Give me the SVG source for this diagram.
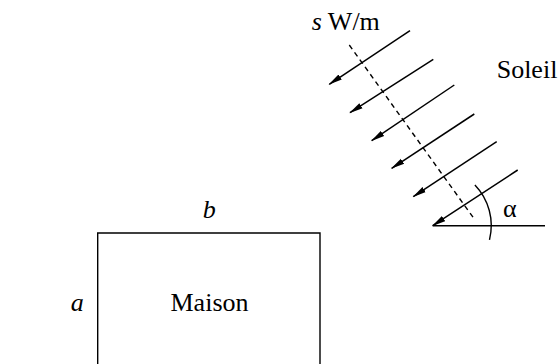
<svg xmlns="http://www.w3.org/2000/svg" width="560" height="364" viewBox="0 0 560 364">
<style>
text{font-family:'Liberation Serif','Times New Roman',serif;font-size:26px;fill:#000}
.it{font-style:italic}
.ray{stroke:#000;stroke-width:1.5;fill:none;marker-end:url(#ah)}
.ln{stroke:#000;stroke-width:1.4;fill:none}
</style>
<defs>
<marker id="ah" viewBox="0 0 14 8" refX="13" refY="4" markerUnits="userSpaceOnUse" markerWidth="14" markerHeight="8" orient="auto">
<path d="M0,1 L14,4 L0,7 Z" fill="#000"/>
</marker>
</defs>
<rect width="560" height="364" fill="#fff"/>
<g id="connectors">
<line class="ray" x1="410" y1="30.7" x2="329.3" y2="84.3"/>
<line class="ray" x1="433.3" y1="59.3" x2="350" y2="112.7"/>
<line class="ray" x1="454.3" y1="85" x2="371.7" y2="140.7"/>
<line class="ray" x1="474.3" y1="114" x2="391.7" y2="168.3"/>
<line class="ray" x1="496.7" y1="141.7" x2="413.3" y2="196.7"/>
<line class="ray" x1="517.7" y1="170" x2="432.7" y2="225.7"/>
<line class="ln" x1="349.3" y1="45" x2="475" y2="220" stroke-dasharray="5,4"/>
<line class="ln" x1="432.7" y1="225.7" x2="545" y2="225.7"/>
<path class="ln" d="M474.9,185.0 A58.5,58.5 0 0 1 489.5,239.8"/>
</g>
<g id="maison">
<path class="ln" d="M97.7,370 V233 H320 V370" stroke-width="1.5"/>
<text x="170.5" y="311">Maison</text>
</g>
<g id="labels">
<text x="311.7" y="30"><tspan class="it">s</tspan> W/m</text>
<text x="496.7" y="78">Soleil</text>
<text x="503" y="217">α</text>
<text class="it" x="202.7" y="218">b</text>
<text class="it" x="70.7" y="311">a</text>
</g>
</svg>
